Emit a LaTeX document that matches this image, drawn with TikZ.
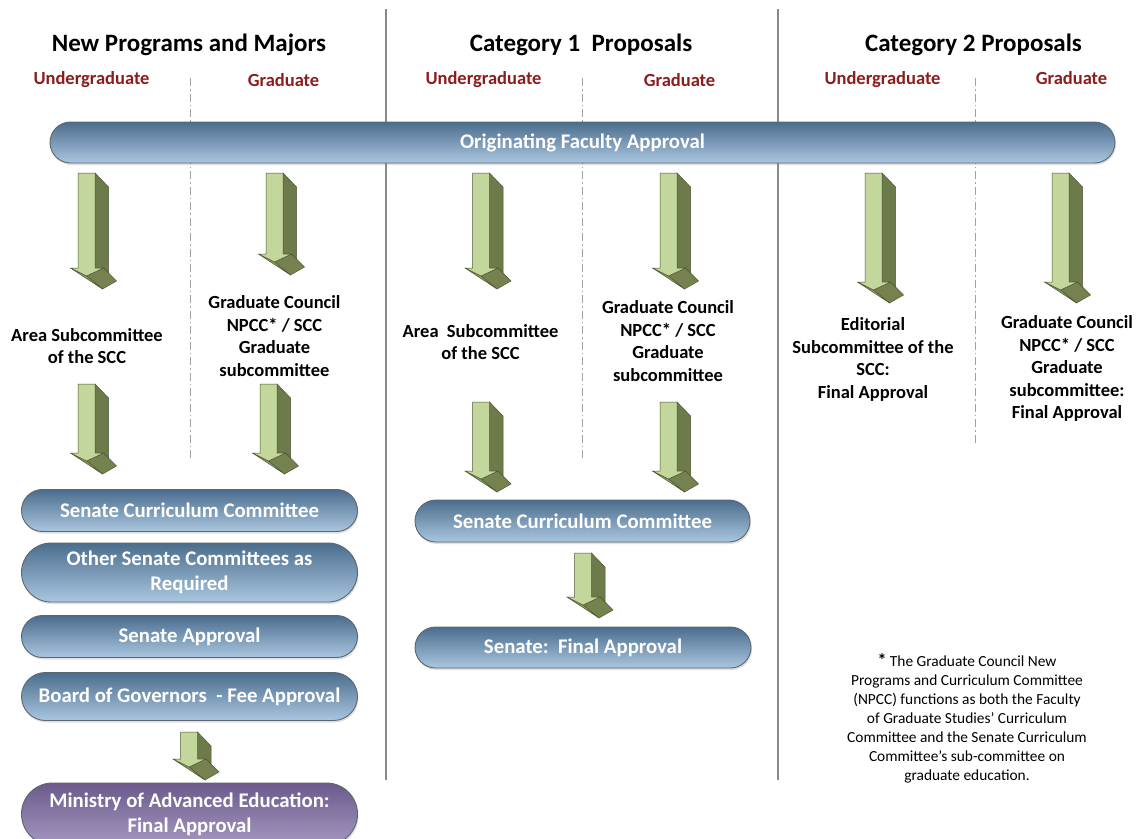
\documentclass[tikz,border=0pt]{standalone}
\usepackage{fontspec}
\setmainfont{Carlito}
\usetikzlibrary{shapes.misc,shadows}
\definecolor{pilltop}{HTML}{4B6D8D}
\definecolor{pillbot}{HTML}{AAC6E0}
\definecolor{pilledge}{HTML}{5C6670}
\definecolor{purtop}{HTML}{6B5A8B}
\definecolor{purbot}{HTML}{A497C1}
\definecolor{subred}{HTML}{8C1D1D}
\definecolor{arfront}{HTML}{C3D69B}
\definecolor{arside}{HTML}{6D7A4A}
\definecolor{arhead}{HTML}{75824F}
\definecolor{arsliver}{HTML}{8E9B64}
\definecolor{aredge}{HTML}{4E5733}
\definecolor{sepgray}{HTML}{8A8A8A}
\newcommand\blockarr[3]{%
  \filldraw[fill=arside,draw=aredge,line width=0.5pt] ({#1+8.5},{#2}) -- ({#1+22},{#2+14}) -- ({#1+22},{#3+5}) -- ({#1+17},{#3}) -- ({#1+8.5},{#3}) -- cycle;
  \filldraw[fill=arhead,draw=aredge,line width=0.5pt] ({#1},{#3+8}) -- ({#1+17},{#3}) -- ({#1+30},{#3+13}) -- ({#1+16},{#3+21}) -- cycle;
  \filldraw[fill=arsliver,draw=aredge,line width=0.5pt] ({#1-16},{#3}) -- ({#1},{#3+8}) -- ({#1+16},{#3+21}) -- cycle;
  \filldraw[fill=arfront,draw=aredge,line width=0.5pt] ({#1-8.5},{#2}) -- ({#1+8.5},{#2}) -- ({#1+8.5},{#3}) -- ({#1+17},{#3}) -- ({#1},{#3+8}) -- ({#1-16},{#3}) -- ({#1-8.5},{#3}) -- cycle;
}
\tikzset{
  pill/.style={shape=rounded rectangle, draw=pilledge, line width=0.9pt,
    top color=pilltop, bottom color=pillbot, text=white, align=center,
    font=\fontsize{20.8}{25}\selectfont\bfseries, inner sep=0pt,
    drop shadow={shadow xshift=1pt, shadow yshift=-2pt, opacity=0.25}},
  purpill/.style={pill, top color=purtop, bottom color=purbot},
  title/.style={font=\fontsize{25}{28}\selectfont\bfseries, text=black, inner sep=0pt},
  subhead/.style={font=\fontsize{18.5}{20}\selectfont\bfseries, text=subred, inner sep=0pt},
  label/.style={font=\fontsize{18.5}{22.5}\selectfont\bfseries, text=black, align=center, inner sep=0pt},
  note/.style={font=\fontsize{15.4}{19}\selectfont, text=black, align=center, inner sep=0pt},
  solidsep/.style={draw=sepgray, line width=1.3pt},
  dashsep/.style={draw=sepgray!80, line width=1pt, dash pattern=on 8pt off 3pt on 1.5pt off 3pt}
}
\begin{document}
\begin{tikzpicture}[x=1pt,y=-1pt]
\useasboundingbox[fill=white] (0,0) rectangle (1143,838);

% separators
\coordinate (s1t) at (386,9); \coordinate (s1b) at (386,780);
\coordinate (s2t) at (778,9); \coordinate (s2b) at (778,780);
\draw[solidsep] (s1t) -- (s1b);
\draw[solidsep] (s2t) -- (s2b);
\coordinate (d1t) at (190,78); \coordinate (d1b) at (190,460);
\coordinate (d2t) at (582,78); \coordinate (d2b) at (582,460);
\coordinate (d3t) at (975,78); \coordinate (d3b) at (975,445);
\draw[dashsep] (d1t) -- (d1b);
\draw[dashsep] (d2t) -- (d2b);
\draw[dashsep] (d3t) -- (d3b);

% headings
\node[title] (h1) at (189,45) {New Programs and Majors};
\node[title] (h2) at (581,45) {Category 1\ \ Proposals};
\node[title] (h3) at (973.5,45) {Category 2 Proposals};
\node[subhead] (u1) at (91.5,80) {Undergraduate};
\node[subhead] (g1) at (283.5,80) {Graduate};
\node[subhead] (u2) at (483.5,80) {Undergraduate};
\node[subhead] (g2) at (679.5,80) {Graduate};
\node[subhead] (u3) at (882.5,80) {Undergraduate};
\node[subhead] (g3) at (1071.5,78) {Graduate};

% top pill
\node[pill, minimum width=1065pt, minimum height=41pt] (ofa) at (582.5,142.5) {Originating Faculty Approval};

% arrows row 1
\blockarr{86.5}{173}{268}
\blockarr{274.5}{173}{254}
\blockarr{481}{173}{268}
\blockarr{668.5}{173}{268}
\blockarr{873.5}{173}{282}
\blockarr{1060.5}{173}{282}

% labels
\node[label] (l1) at (87,346) {Area Subcommittee\\of the SCC};
\node[label] (l2) at (274.5,336) {Graduate Council\\NPCC* / SCC\\Graduate\\subcommittee};
\node[label] (l3) at (480.5,342) {Area\ \ Subcommittee\\of the SCC};
\node[label] (l4) at (668,341) {Graduate Council\\NPCC* / SCC\\Graduate\\subcommittee};
\node[label] (l5) at (873,359.5) {Editorial\\Subcommittee of the\\SCC:\\Final Approval};
\node[label] (l6) at (1067,368.5) {Graduate Council\\NPCC* / SCC\\Graduate\\subcommittee:\\Final Approval};

% arrows row 2
\blockarr{86.5}{384}{453}
\blockarr{268.5}{384}{453}
\blockarr{481}{402}{471}
\blockarr{668.5}{402}{471}

% left column pills
\node[pill, minimum width=336pt, minimum height=42pt] (scc1) at (189.5,510.5) {Senate Curriculum Committee};
\node[pill, minimum width=336pt, minimum height=59pt] (other) at (189.5,572.5) {Other Senate Committees as\\Required};
\node[pill, minimum width=336pt, minimum height=42pt] (sa) at (189.5,636.5) {Senate Approval};
\node[pill, minimum width=336pt, minimum height=48pt] (bog) at (189.5,696.5) {Board of Governors\ \ - Fee Approval};
\blockarr{189}{732}{759}
\node[purpill, minimum width=336pt, minimum height=62pt] (min) at (189.5,814) {Ministry of Advanced Education:\\Final Approval};

% middle column pills
\node[pill, minimum width=335pt, minimum height=42pt] (scc2) at (582.5,521) {Senate Curriculum Committee};
\blockarr{583}{553}{597}
\node[pill, minimum width=336pt, minimum height=41pt] (sfa) at (583,647.5) {Senate:\ \ Final Approval};

% footnote
\node[note] (fn) at (967,718) {{\bfseries\fontsize{18}{19}\selectfont *} The Graduate Council New\\Programs and Curriculum Committee\\(NPCC) functions as both the Faculty\\of Graduate Studies’ Curriculum\\Committee and the Senate Curriculum\\Committee’s sub-committee on\\graduate education.};
\end{tikzpicture}
\end{document}
